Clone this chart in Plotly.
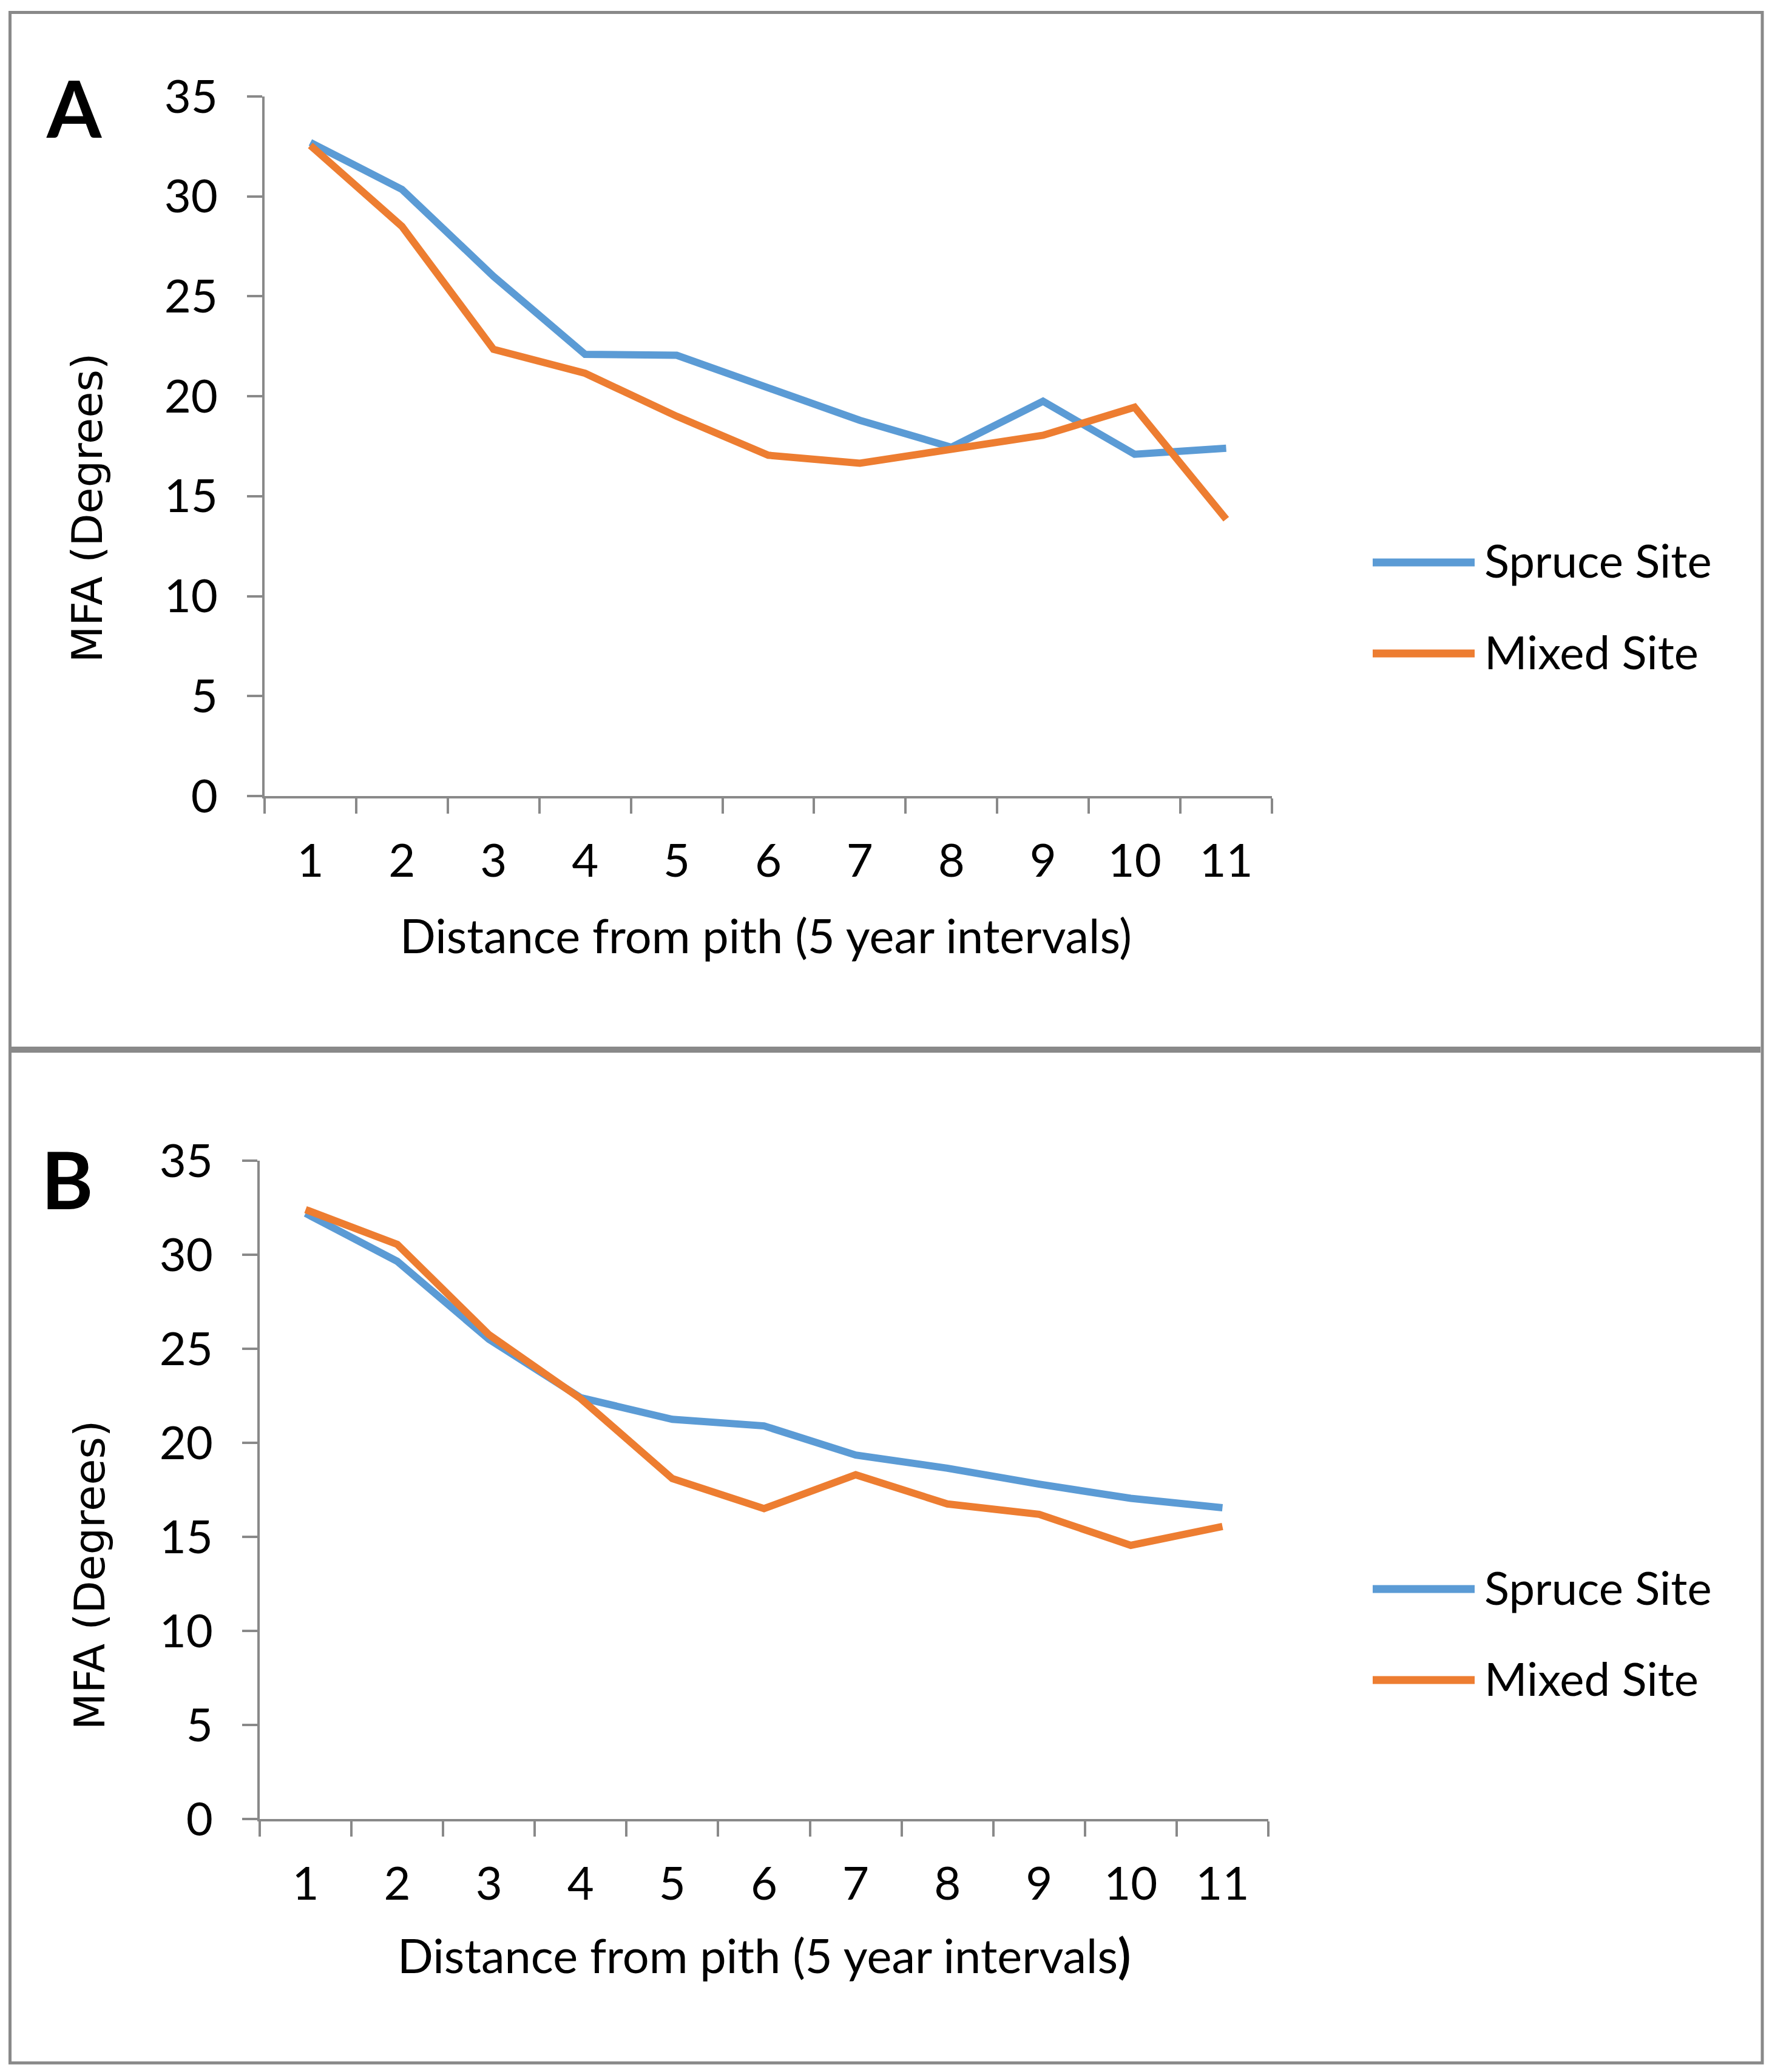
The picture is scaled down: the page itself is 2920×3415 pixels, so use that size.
import plotly.graph_objects as go

W, H = 2920, 3415

categories = ["1", "2", "3", "4", "5", "6", "7", "8", "9", "10", "11"]
series_names = ["Spruce Site", "Mixed Site"]
a_spruce = [32.7, 30.35, 26.0, 22.1, 22.05, 20.4, 18.8, 17.45, 19.75, 17.1, 17.4]
a_mixed = [32.55, 28.5, 22.35, 21.15, 19.0, 17.05, 16.65, 17.35, 18.05, 19.45, 13.85]
b_spruce = [32.2, 29.65, 25.5, 22.4, 21.25, 20.9, 19.35, 18.65, 17.8, 17.05, 16.55]
b_mixed = [32.4, 30.55, 25.75, 22.35, 18.1, 16.5, 18.3, 16.75, 16.2, 14.55, 15.55]
y_ticks = [0, 5, 10, 15, 20, 25, 30, 35]
x_title = "Distance from pith (5 year intervals)"
y_title = "MFA (Degrees)"
panel_labels = ["A", "B"]

BLUE = "#5B9BD5"
ORANGE = "#ED7D31"
AXIS = "#898989"
TXT = "Lato"


def px(x):
    return x / W


def py(y):
    return 1 - y / H


fig = go.Figure()

panels = [
    dict(xa="x", ya="y", data=[a_spruce, a_mixed]),
    dict(xa="x2", ya="y2", data=[b_spruce, b_mixed]),
]
colors = [BLUE, ORANGE]

for p in panels:
    for name, vals, col in zip(series_names, p["data"], colors):
        fig.add_trace(go.Scatter(
            x=categories, y=vals, name=name, mode="lines",
            line=dict(color=col, width=12),
            xaxis=p["xa"], yaxis=p["ya"], showlegend=False,
        ))

axis_common_x = dict(
    type="category", range=[-0.5, 10.5], tickson="boundaries",
    ticks="outside", ticklen=25, tickwidth=4, tickcolor=AXIS,
    showline=True, linecolor=AXIS, linewidth=4, showgrid=False, zeroline=False,
    tickfont=dict(family=TXT, size=76, color="#000"), ticklabelstandoff=38,
    automargin=False,
)
axis_common_y = dict(
    range=[0, 35], tickvals=y_ticks, ticks="outside", ticklen=25, tickwidth=4,
    tickcolor=AXIS, showline=True, linecolor=AXIS, linewidth=4,
    showgrid=False, zeroline=False,
    tickfont=dict(family=TXT, size=76, color="#000"), ticklabelstandoff=33,
    automargin=False,
)

layout = dict(
    width=W, height=H, autosize=False,
    margin=dict(l=0, r=0, t=0, b=0, pad=0, autoexpand=False),
    paper_bgcolor="white", plot_bgcolor="white", showlegend=False,
)
layout["xaxis"] = dict(axis_common_x, domain=[px(436), px(2096)], anchor="y")
layout["yaxis"] = dict(axis_common_y, domain=[py(1312), py(159)], anchor="x")
layout["xaxis2"] = dict(axis_common_x, domain=[px(428), px(2090)], anchor="y2")
layout["yaxis2"] = dict(axis_common_y, domain=[py(2998), py(1913)], anchor="x2")
fig.update_layout(**layout)

shapes = []
# outer frame
shapes.append(dict(type="rect", xref="paper", yref="paper",
                   x0=px(16.5), x1=px(2904), y0=py(3400), y1=py(20.5),
                   line=dict(color=AXIS, width=5), fillcolor="rgba(0,0,0,0)"))
# separator between the two panels
shapes.append(dict(type="line", xref="paper", yref="paper",
                   x0=px(19), x1=px(2901), y0=py(1730), y1=py(1730),
                   line=dict(color=AXIS, width=10)))

annotations = []
legend_y = [(927, 1077), (2619, 2769)]
ytitle_pos = [(144, 837), (148, 2596)]
xtitle_pos = [(1262, 1541), (1259, 3222)]
label_pos = [(122, 177), (111, 1943)]
xtitles = [x_title, x_title[:-1] + "<b>)</b>"]

for i in range(2):
    for name, col, ly in zip(series_names, colors, legend_y[i]):
        shapes.append(dict(type="line", xref="paper", yref="paper",
                           x0=px(2262), x1=px(2430), y0=py(ly), y1=py(ly),
                           line=dict(color=col, width=13)))
        annotations.append(dict(text=name, xref="paper", yref="paper",
                                x=px(2444), y=py(ly - 4), xanchor="left", yanchor="middle",
                                showarrow=False, font=dict(family=TXT, size=76, color="#000")))
    annotations.append(dict(text=y_title, xref="paper", yref="paper",
                            x=px(ytitle_pos[i][0]), y=py(ytitle_pos[i][1]),
                            xanchor="center", yanchor="middle", textangle=-90,
                            showarrow=False, font=dict(family="DejaVu Sans", size=70, color="#000")))
    annotations.append(dict(text=xtitles[i], xref="paper", yref="paper",
                            x=px(xtitle_pos[i][0]), y=py(xtitle_pos[i][1]),
                            xanchor="center", yanchor="middle",
                            showarrow=False, font=dict(family=TXT, size=77.5, color="#000")))
    annotations.append(dict(text="<b>" + panel_labels[i] + "</b>", xref="paper", yref="paper",
                            x=px(label_pos[i][0]), y=py(label_pos[i][1]),
                            xanchor="center", yanchor="middle",
                            showarrow=False, font=dict(family=TXT, size=130, color="#000")))

fig.update_layout(shapes=shapes, annotations=annotations)
fig.write_html("out.html", config={"displayModeBar": False},
               post_script="document.body.style.margin='0';")
